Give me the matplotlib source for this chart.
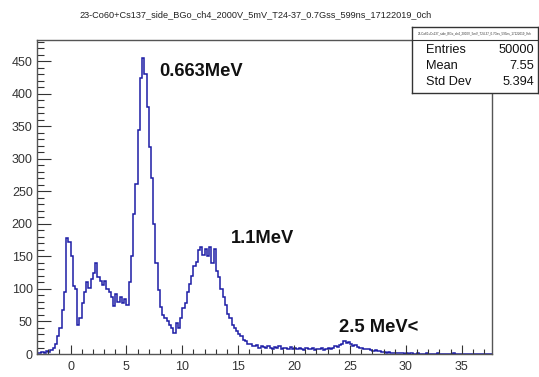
import numpy as np
import matplotlib
matplotlib.use("Agg")
import matplotlib.pyplot as plt
from matplotlib.ticker import MultipleLocator

plt.rcParams['font.family'] = ['Liberation Sans', 'DejaVu Sans']

# --- Histogram contents (bin width 0.2, first bin starts at -3.0) ---
bin_start = -3.0
bin_width = 0.2
counts = [
    # -3.0 .. -0.2
    2, 1, 3, 2, 4, 3, 6, 9, 15, 28, 40, 68, 95, 178, 172,
    # 0.0 .. 4.8
    150, 104, 100, 45, 55, 78, 95, 110, 102, 115, 125, 140, 118, 112, 106,
    112, 100, 96, 88, 74, 92, 80, 88, 78, 84,
    # 5.0 .. 9.8
    76, 110, 150, 215, 262, 345, 425, 455, 430, 380, 318, 270, 200, 140, 98,
    72, 60, 55, 50, 44, 40, 33, 48, 40, 55,
    # 10.0 .. 15.8
    70, 78, 95, 108, 120, 135, 142, 160, 165, 152, 162, 150, 165, 140, 162,
    128, 118, 100, 88, 75, 62, 55, 45, 40, 36, 30, 28, 22, 20, 16,
    # 16.0 .. 19.8
    15, 13, 12, 14, 10, 12, 11, 9, 13, 10, 8, 11, 9, 12, 8, 10, 9, 7, 11, 8,
    # 20.0 .. 23.4
    9, 7, 10, 8, 6, 9, 7, 8, 10, 6, 8, 7, 9, 6, 8, 10, 7, 9,
    # 23.6 .. 25.4
    12, 11, 14, 16, 20, 17, 19, 15, 13, 14,
    # 25.6 .. 27.8
    11, 9, 10, 8, 7, 8, 6, 5, 6, 4, 5, 3,
    # 28.0 .. 29.8
    3, 2, 3, 2, 1, 2, 1, 1, 2, 0,
    # 30.0 .. 37.6
    1, 0, 1, 0, 0, 1, 0, 0, 0, 1, 0, 0, 0, 0, 1, 0, 0, 0, 0, 0,
    0, 1, 0, 0, 0, 0, 0, 0, 0, 0, 0, 0, 0, 0, 0, 0, 0, 0, 0,
]
edges = bin_start + bin_width * np.arange(len(counts) + 1)

title = "23-Co60+Cs137_side_BGo_ch4_2000V_5mV_T24-37_0.7Gss_599ns_17122019_0ch"
peak_labels = ["0.663MeV", "1.1MeV", "2.5 MeV<"]
peak_label_pos = [(7.97, 434), (14.3, 178), (24.05, 41)]
stats_names = ["Entries", "Mean", "Std Dev"]
stats_values = ["50000", "7.55", "5.394"]

# --- Figure ---
fig = plt.figure(figsize=(5.39, 3.77), dpi=100)
ax = fig.add_axes([0.0686, 0.061, 0.8442, 0.833])

ax.stairs(counts, edges, color="#1c1ca6", lw=1.1)
ax.set_xlim(-3.0, 37.7)
ax.set_ylim(0, 483)

ax.xaxis.set_major_locator(MultipleLocator(5))
ax.xaxis.set_minor_locator(MultipleLocator(1))
ax.yaxis.set_major_locator(MultipleLocator(50))
ax.yaxis.set_minor_locator(MultipleLocator(10))
ax.tick_params(axis="x", which="major", direction="in", length=6.5, width=0.8,
               pad=5, labelsize=9, colors="#333333")
ax.tick_params(axis="x", which="minor", direction="in", length=3.3, width=0.8, colors="#333333")
ax.tick_params(axis="y", which="major", direction="in", length=10, width=0.8,
               pad=3, labelsize=9, colors="#333333")
ax.tick_params(axis="y", which="minor", direction="in", length=5, width=0.8, colors="#333333")
for s in ax.spines.values():
    s.set_color("#555555")
    s.set_linewidth(1.0)

for txt, (x, y) in zip(peak_labels, peak_label_pos):
    ax.text(x, y, txt, fontsize=13.2, fontweight="bold", color="#111111",
            ha="left", va="center")

fig.text(0.474, 0.96, title, fontsize=6.6, color="#222222", ha="center", va="center")

# --- Statistics box ---
sb = fig.add_axes([0.7644, 0.753, 0.233, 0.175])
sb.set_xticks([])
sb.set_yticks([])
for s in sb.spines.values():
    s.set_color("#333333")
    s.set_linewidth(1.0)
sb.axhline(0.806, color="#333333", lw=0.8)
sb.text(0.5, 0.9, title, fontsize=2.2, color="#333333", ha="center", va="center")
rows_y = [0.65, 0.41, 0.17]
for name, val, y in zip(stats_names, stats_values, rows_y):
    sb.text(0.11, y, name, fontsize=9.2, color="#111111", ha="left", va="center")
    sb.text(0.97, y, val, fontsize=9.2, color="#111111", ha="right", va="center")

fig.savefig("out.png", dpi=100)
